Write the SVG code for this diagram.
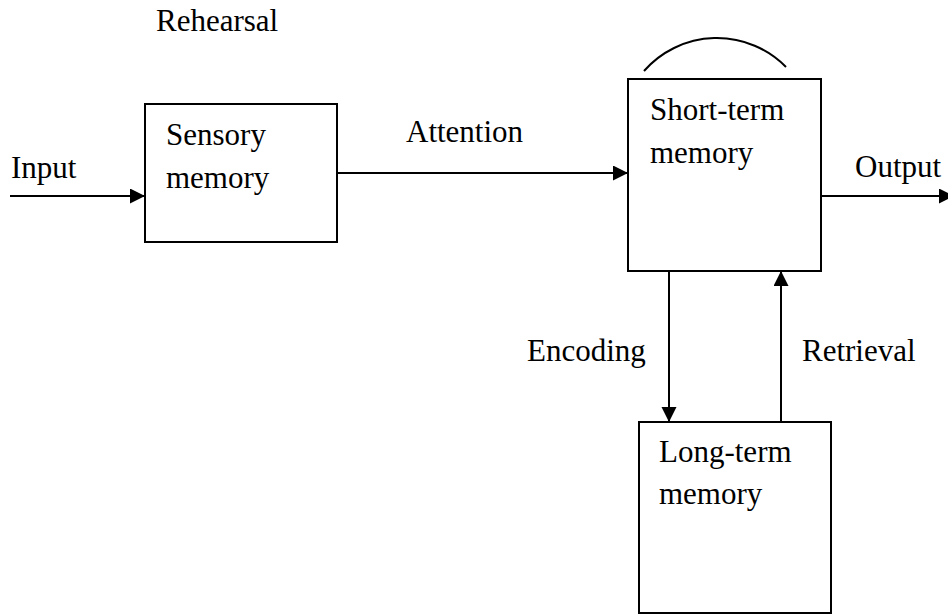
<svg xmlns="http://www.w3.org/2000/svg" width="948" height="615" viewBox="0 0 948 615">
  <style>
    .box { fill: #fff; stroke: #000; stroke-width: 2; }
    .link { fill: none; stroke: #000; stroke-width: 2; }
    .lbl { font-family: "Liberation Serif", "Times New Roman", serif; font-size: 31px; fill: #000; }
  </style>
  <defs>
    <marker id="arrow" markerUnits="userSpaceOnUse" markerWidth="16" markerHeight="16" refX="15" refY="7.5" orient="auto">
      <path d="M0,0 L15,7.5 L0,15 Z" fill="#000"/>
    </marker>
  </defs>
  <rect width="948" height="615" fill="#fff"/>

  <g id="connectors">
    <line class="link" x1="10" y1="196" x2="145" y2="196" marker-end="url(#arrow)"/>
    <line class="link" x1="337" y1="173" x2="628" y2="173" marker-end="url(#arrow)"/>
    <line class="link" x1="821" y1="196" x2="954" y2="196" marker-end="url(#arrow)"/>
    <line class="link" x1="669" y1="271" x2="669" y2="422" marker-end="url(#arrow)"/>
    <line class="link" x1="781" y1="422" x2="781" y2="271" marker-end="url(#arrow)"/>
    <!-- rehearsal loop over short-term memory -->
    <path class="link" d="M644,71 A97,97 0 0 1 786,67"/>
  </g>

  <g id="sensory">
    <rect class="box" x="145" y="104" width="192" height="138"/>
    <text class="lbl" x="166" y="145">Sensory</text>
    <text class="lbl" x="166" y="188">memory</text>
  </g>

  <g id="short-term">
    <rect class="box" x="628" y="79" width="193" height="192"/>
    <text class="lbl" x="650" y="120">Short-term</text>
    <text class="lbl" x="650" y="163">memory</text>
  </g>

  <g id="long-term">
    <rect class="box" x="639" y="422" width="192" height="191"/>
    <text class="lbl" x="659" y="462">Long-term</text>
    <text class="lbl" x="659" y="504">memory</text>
  </g>

  <g id="labels">
    <text class="lbl" x="156" y="31">Rehearsal</text>
    <text class="lbl" x="11" y="178">Input</text>
    <text class="lbl" x="406" y="142">Attention</text>
    <text class="lbl" x="855" y="177">Output</text>
    <text class="lbl" x="527" y="361">Encoding</text>
    <text class="lbl" x="802" y="361">Retrieval</text>
  </g>
</svg>
